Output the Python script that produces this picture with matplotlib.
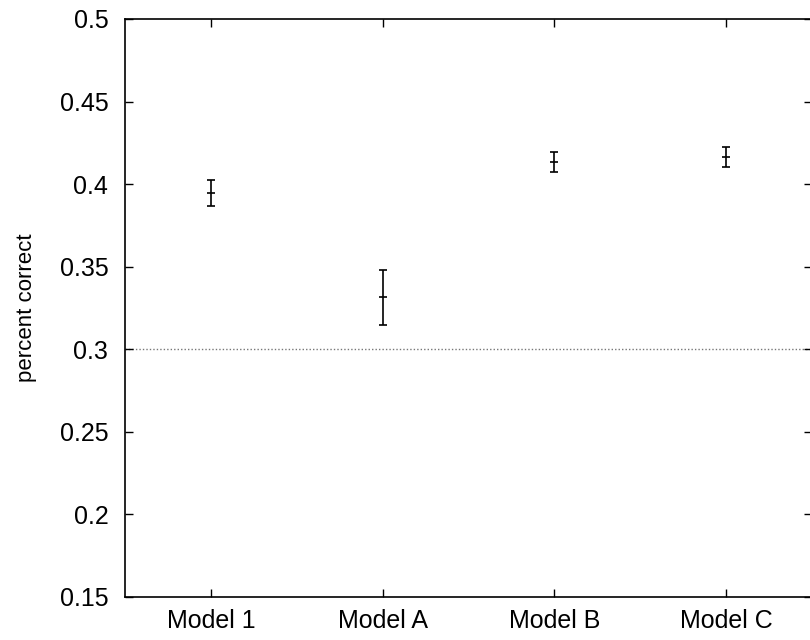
import matplotlib
matplotlib.use("Agg")
import matplotlib.pyplot as plt

categories = ["Model 1", "Model A", "Model B", "Model C"]
means = [0.3945, 0.3315, 0.4135, 0.4165]
errors = [0.0078, 0.0165, 0.0062, 0.0062]
baseline = 0.3
yticks = [0.15, 0.2, 0.25, 0.3, 0.35, 0.4, 0.45, 0.5]
ytick_labels = ["0.15", "0.2", "0.25", "0.3", "0.35", "0.4", "0.45", "0.5"]

plt.rcParams['font.family'] = ['Liberation Sans', 'DejaVu Sans']

fig = plt.figure(figsize=(8.1, 6.4), dpi=100)
ax = fig.add_axes([125/810, 1 - 597/640, (812 - 125)/810, (597 - 19)/640])

x = list(range(1, len(categories) + 1))
ax.axhline(baseline, color="#777777", lw=1.0, ls=(0, (1, 1.5)), zorder=1)
ax.errorbar(x, means, yerr=errors, fmt="_", color="black", ecolor="black",
            elinewidth=1.2, capsize=3.0, capthick=1.2, markersize=6,
            markeredgewidth=1.2, zorder=3)

ax.set_xlim(0.5, 4.5)
ax.set_ylim(0.15, 0.5)
ax.set_xticks(x)
ax.set_xticklabels(categories)
ax.set_yticks(yticks)
ax.set_yticklabels(ytick_labels)
ax.set_ylabel("percent correct", fontsize=16, labelpad=16)

ax.tick_params(axis="both", direction="in", length=6, width=1.0,
               labelsize=18, top=True, right=True)
ax.tick_params(axis="y", pad=12)
ax.tick_params(axis="x", pad=9)
for s in ax.spines.values():
    s.set_linewidth(1.2)

fig.savefig("out.png", dpi=100)
